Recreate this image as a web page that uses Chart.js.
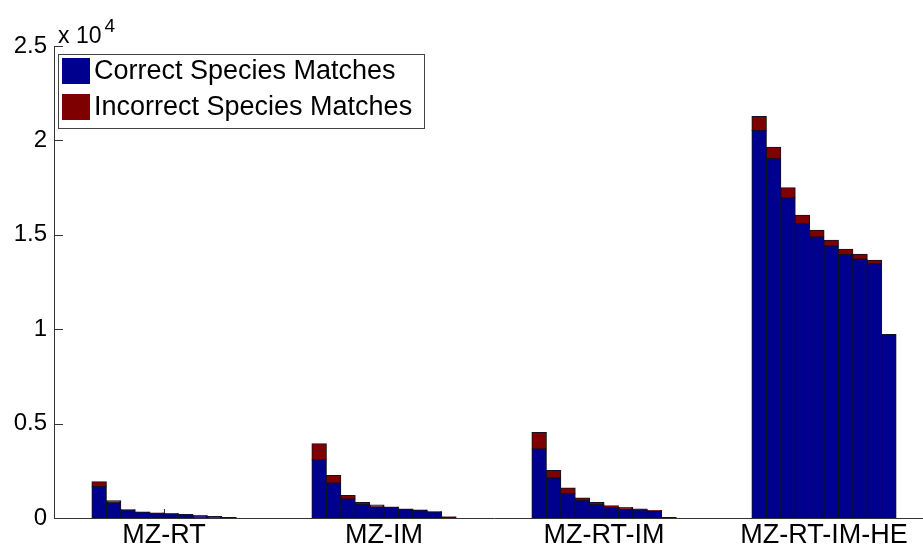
<!DOCTYPE html>
<html>
<head>
<meta charset="utf-8">
<script src="https://cdn.jsdelivr.net/npm/chart.js@4"></script>
<style>
  html, body { margin: 0; padding: 0; background: #fff; overflow: hidden; }
  #wrap { width: 934px; height: 550px; position: relative; }
</style>
</head>
<body>
<div id="wrap"><canvas id="bar-chart"></canvas></div>
<script>
const groups = ['MZ-RT', 'MZ-IM', 'MZ-RT-IM', 'MZ-RT-IM-HE'];
const seriesNames = ['Correct Species Matches', 'Incorrect Species Matches'];
const yTicks = [0, 5000, 10000, 15000, 20000, 25000];

// ten ranked bars per group
const correctMZRT = [1656, 810, 420, 300, 255, 220, 185, 115, 82, 28];
const incorrectMZRT = [264, 105, 20, 17, 10, 8, 5, 5, 3, 2];
const correctMZIM = [3084, 1851, 1005, 720, 582, 550, 452, 410, 320, 48];
const incorrectMZIM = [846, 400, 190, 105, 100, 32, 24, 13, 13, 2];
const correctMZRTIM = [3650, 2116, 1286, 915, 704, 561, 476, 423, 370, 28];
const incorrectMZRTIM = [880, 400, 300, 143, 120, 90, 85, 53, 32, 2];
const correctMZRTIMHE = [20525, 19028, 16965, 15589, 14881, 14405, 13950, 13701, 13473, 9718];
const incorrectMZRTIMHE = [741, 614, 529, 440, 354, 300, 290, 265, 175, 0];

const correctAll = [correctMZRT, correctMZIM, correctMZRTIM, correctMZRTIMHE];
const incorrectAll = [incorrectMZRT, incorrectMZIM, incorrectMZRTIM, incorrectMZRTIMHE];

const blue = '#00008f';
const red = '#7f0000';

const datasets = [];
for (let i = 0; i < 10; i++) {
    datasets.push({
        label: seriesNames[0],
        data: correctAll.map(g => g[i]),
        backgroundColor: blue,
        stack: 's' + i
    });
    datasets.push({
        label: seriesNames[1],
        data: incorrectAll.map(g => g[i]),
        backgroundColor: red,
        stack: 's' + i
    });
}

const font = "'Liberation Sans', Arial, Helvetica, sans-serif";

// inward ticks, drawn under the bars like matlab
const innerTicks = {
    id: 'innerTicks',
    beforeDatasetsDraw(chart) {
        const {ctx, chartArea, scales} = chart;
        ctx.save();
        ctx.strokeStyle = '#333';
        ctx.lineWidth = 1;
        ctx.beginPath();
        yTicks.forEach(v => {
            const y = Math.round(scales.y.getPixelForValue(v)) + 0.5;
            ctx.moveTo(chartArea.left, y);
            ctx.lineTo(chartArea.left + 9, y);
        });
        groups.forEach((g, i) => {
            const x = Math.round(scales.x.getPixelForValue(i)) + 0.5;
            ctx.moveTo(x, chartArea.bottom);
            ctx.lineTo(x, chartArea.bottom - 9);
        });
        ctx.stroke();
        ctx.restore();
    },
    afterDraw(chart) {
        const {ctx, chartArea} = chart;
        ctx.save();
        // exponent label
        ctx.fillStyle = '#000';
        ctx.textBaseline = 'alphabetic';
        ctx.font = '23px ' + font;
        ctx.fillText('x 10', chartArea.left + 4, 43);
        const w = ctx.measureText('x 10').width;
        ctx.font = '19px ' + font;
        ctx.fillText('4', chartArea.left + 7 + w, 32);

        // legend box inside the axes
        const bx = chartArea.left + 4, by = 54, bw = 366, bh = 74;
        ctx.fillStyle = '#fff';
        ctx.fillRect(bx, by, bw, bh);
        ctx.strokeStyle = '#444';
        ctx.lineWidth = 1;
        ctx.strokeRect(bx + 0.5, by + 0.5, bw, bh);
        const cols = [blue, red];
        seriesNames.forEach((name, i) => {
            const sy = by + 4 + i * 36;
            ctx.fillStyle = cols[i];
            ctx.fillRect(bx + 4, sy, 28, 26);
            ctx.fillStyle = '#000';
            ctx.font = '27px ' + font;
            ctx.textBaseline = 'middle';
            ctx.fillText(name, bx + 36, sy + 14);
        });
        ctx.restore();
    }
};

const ctx = document.getElementById('bar-chart').getContext('2d');
const myChart = new Chart(ctx, {
    type: 'bar',
    data: {
        labels: groups,
        datasets: datasets
    },
    options: {
        responsive: true,
        maintainAspectRatio: false,
        animation: false,
        categoryPercentage: 0.655,
        barPercentage: 1,
        layout: {padding: {top: 46, left: 0, right: 0, bottom: 0}},
        elements: {
            bar: {
                borderWidth: 1,
                borderColor: '#111122',
                borderSkipped: false,
                inflateAmount: 0.5
            }
        },
        plugins: {
            legend: {display: false},
            title: {display: false},
            tooltip: {enabled: false}
        },
        scales: {
            x: {
                stacked: true,
                grid: {display: false, drawTicks: false},
                border: {display: true, color: '#333', width: 1},
                ticks: {
                    color: '#000',
                    padding: 1,
                    font: {family: font, size: 27}
                },
                afterFit(scale) { scale.height = 32; }
            },
            y: {
                stacked: true,
                min: 0,
                max: 25000,
                grid: {display: false, drawTicks: false},
                border: {display: true, color: '#333', width: 1},
                ticks: {
                    stepSize: 5000,
                    color: '#000',
                    padding: 7,
                    font: {family: font, size: 24},
                    callback: v => String(v / 10000)
                },
                afterFit(scale) { scale.width = 54; }
            }
        }
    },
    plugins: [innerTicks]
});
</script>
</body>
</html>
